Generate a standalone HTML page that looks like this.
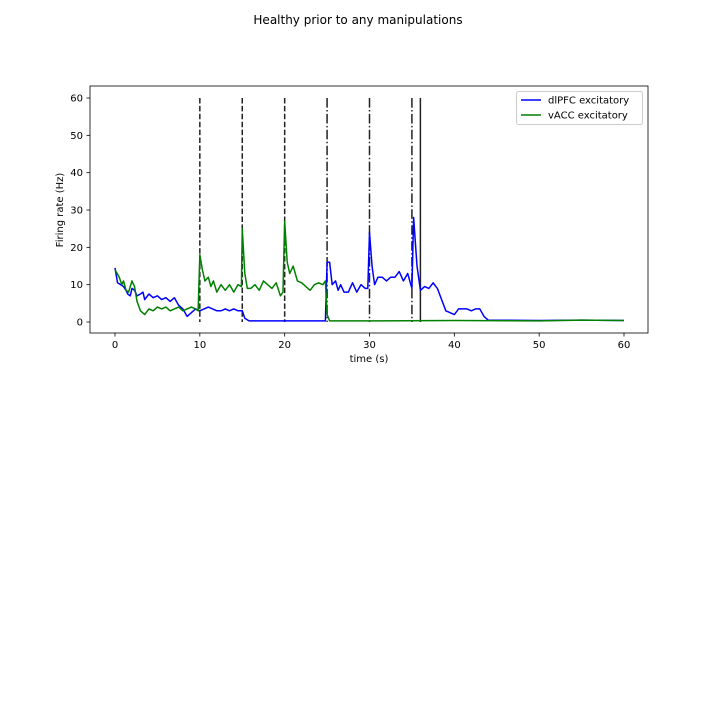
<!DOCTYPE html>
<html><head><meta charset="utf-8"><style>
body{margin:0;background:#fff;}
svg text{font-family:"DejaVu Sans","Liberation Sans",sans-serif;}
</style></head><body>
<svg id="chart" width="720" height="720" xmlns="http://www.w3.org/2000/svg">
<rect width="720" height="720" fill="#fff"/>
<text x="358" y="24" font-size="12" text-anchor="middle">Healthy prior to any manipulations</text>
<g id="plot"></g>
</svg>
<script>
const blueT=[0,0.3,1,1.3,1.5,1.8,2,2.3,2.6,3,3.3,3.5,4,4.5,5,5.5,6,6.5,7,7.5,8,8.5,9,9.5,10,10.5,11,11.5,12,12.5,13,13.5,14,14.5,15,15.3,15.8,18,21,24.8,25,25.3,25.6,26,26.3,26.6,27,27.5,28,28.5,29,29.5,29.8,30,30.3,30.6,31,31.5,32,32.5,33,33.5,34,34.5,35,35.2,35.6,36,36.5,37,37.5,38,38.5,39,39.5,40,40.5,41,41.5,42,42.5,43,43.5,44,50,55,60];
const blueV=[14.5,10.5,9.5,8.5,7.5,7,9,8.5,7,7.5,8,6,7.5,6.5,7,6,6.5,5.5,6.5,4.5,3.5,1.5,2.5,3.5,3,3.5,4,3.5,3,3,3.5,3,3.5,3,3,1,0.3,0.3,0.3,0.3,16,16,10,11,8.5,10,8,8,10.5,8,10,9,9,24,15,10,12,12,11,12,12,13.5,11,13,9,28,15,8.5,9.5,9,10.5,9,6,3,2.5,2,3.5,3.5,3.5,3,3.5,3.5,1.5,0.5,0.4,0.5,0.4];
const greenT=[0,0.5,0.8,1,1.3,1.6,2,2.3,2.6,3,3.5,4,4.5,5,5.5,6,6.5,7,7.5,8,8.5,9,9.5,9.8,10,10.3,10.6,11,11.3,11.6,12,12.5,13,13.5,14,14.5,14.9,15,15.3,15.6,16,16.5,17,17.5,18,18.5,19,19.5,19.8,20,20.3,20.6,21,21.5,22,22.5,23,23.5,24,24.5,24.8,25,25.3,30,40,50,55,60];
const greenV=[14,12,10,11,8.5,8,11,9.5,5.5,3,2,3.5,3,4,3.5,4,3,3.5,4,3,3.5,4,3.5,3,18,14,11,12,9.5,11,8,10,8.5,10,8,10,9.5,25,13,9,9,10,8.5,11,10,9,10.5,7,8,27,16,13,15,11,10.5,9.5,8.5,10,10.5,10,11,2,0.3,0.3,0.4,0.3,0.5,0.4];
const xTicks=[0,10,20,30,40,50,60];
const yTicks=[0,10,20,30,40,50,60];
const markerTimes=[10,15,20,25,30,35,36];
const markerStyles=["dashed","dashed","dashed","dashdot","dashdot","dashdot","solid"];
const X=t=>115+t*(624-115)/60;
const Y=v=>322-v*(322-98)/60;
const NS="http://www.w3.org/2000/svg";
const g=document.getElementById('plot');
function mk(tag,attrs,parent){const e=document.createElementNS(NS,tag);for(const k in attrs)e.setAttribute(k,attrs[k]);(parent||g).appendChild(e);return e;}
markerTimes.forEach((t,i)=>{
  const s=markerStyles[i];
  const l=mk('line',{x1:X(t),x2:X(t),y1:Y(60),y2:Y(0),stroke:'#222','stroke-width':1.5});
  if(s==='dashed')l.setAttribute('stroke-dasharray','5.5,2.4');
  if(s==='dashdot')l.setAttribute('stroke-dasharray','9.6,2.4,1.5,2.4');
  
  
});
function series(T,V,color,name){
  const p=mk('polyline',{points:T.map((t,i)=>X(t)+','+Y(V[i])).join(' '),fill:'none',stroke:color,'stroke-width':1.5,'stroke-linejoin':'round'});
  
  
}
series(blueT,blueV,'#0000ff','dlpfc-line');
series(greenT,greenV,'#008000','vacc-line');
const ax=mk('rect',{x:90,y:86,width:558,height:247,fill:'none',stroke:'#000','stroke-width':0.8});


xTicks.forEach(t=>{
  mk('line',{x1:X(t),x2:X(t),y1:333,y2:336.5,stroke:'#000','stroke-width':0.8});
  const tx=mk('text',{x:X(t),y:348,'font-size':10,'text-anchor':'middle'});tx.textContent=t;
  
  
});
yTicks.forEach(v=>{
  mk('line',{x1:86.5,x2:90,y1:Y(v),y2:Y(v),stroke:'#000','stroke-width':0.8});
  const tx=mk('text',{x:83,y:Y(v)+3.5,'font-size':10,'text-anchor':'end'});tx.textContent=v;
  
  
});
const xl=mk('text',{x:369,y:362,'font-size':10,'text-anchor':'middle'});xl.textContent='time (s)';


const yl=mk('text',{x:63,y:210,'font-size':10,'text-anchor':'middle',transform:'rotate(-90 63 210)'});yl.textContent='Firing rate (Hz)';


const lg=mk('g',{});


mk('rect',{x:516.5,y:91.5,width:126,height:33,rx:2,fill:'#fff',stroke:'#ccc'},lg);
[['dlPFC excitatory','#0000ff'],['vACC excitatory','#008000']].forEach((d,i)=>{
  const y=100+i*15;
  mk('line',{x1:521,x2:541,y1:y,y2:y,stroke:d[1],'stroke-width':1.5},lg);
  const tx=mk('text',{x:548,y:y+3.5,'font-size':10},lg);tx.textContent=d[0];
  
  
});
</script>
</body></html>
